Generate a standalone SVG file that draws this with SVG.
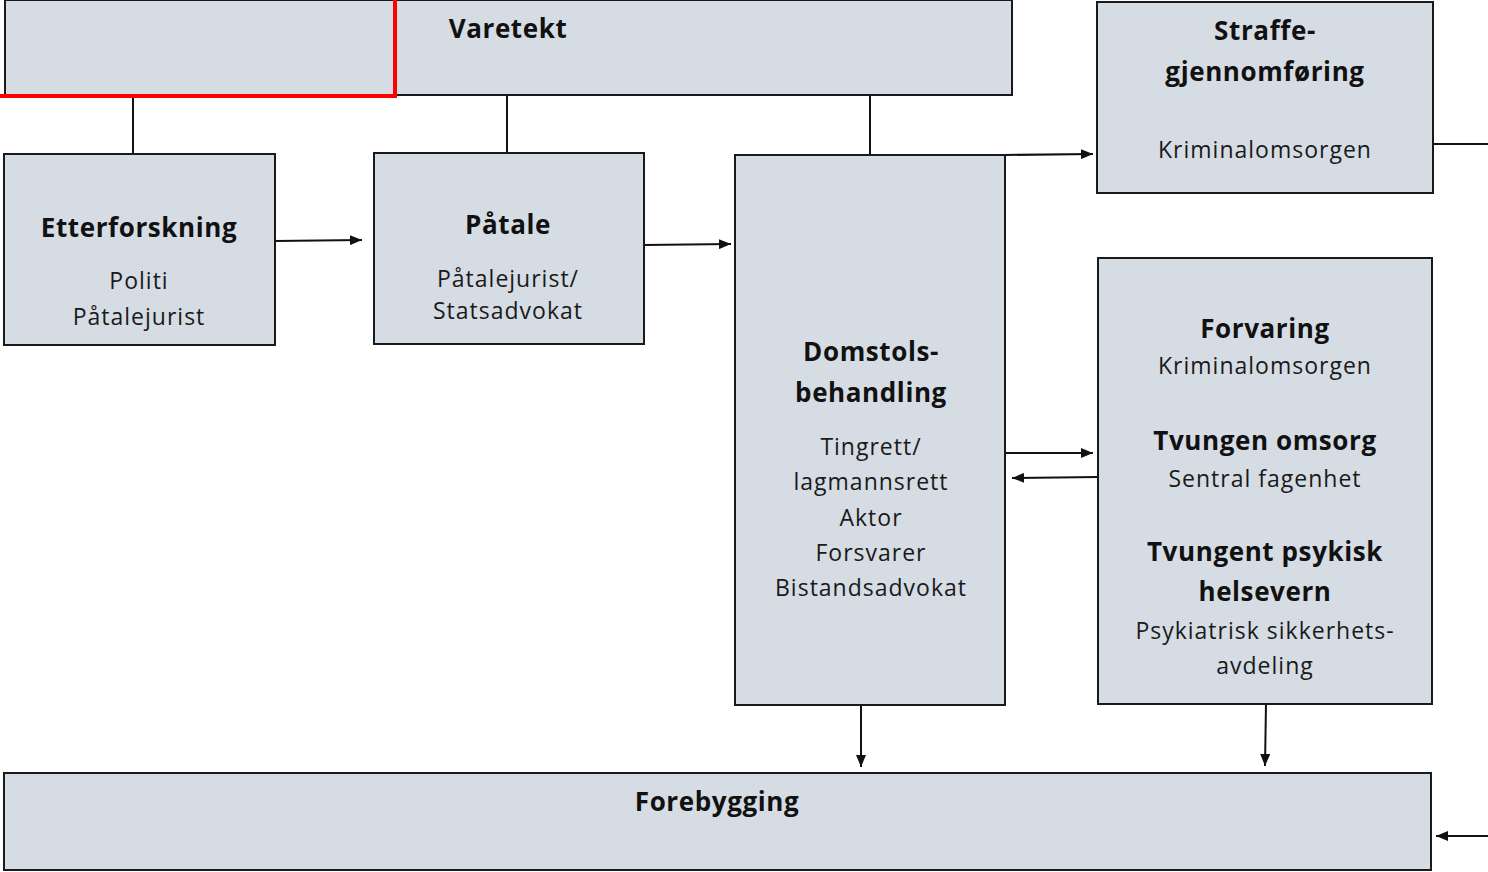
<svg xmlns="http://www.w3.org/2000/svg" width="1488" height="872" viewBox="0 0 1488 872">
<style>
.box{fill:#d6dce4;stroke:#1a1a1a;stroke-width:2}
.h{font-family:"Open Sans","Liberation Sans",sans-serif;font-weight:bold;font-size:26px;letter-spacing:0.6px;fill:#111;text-anchor:middle}
.t{font-family:"Open Sans","Liberation Sans",sans-serif;font-size:23px;letter-spacing:1px;fill:#1a1a1a;text-anchor:middle}
.c{stroke:#111;stroke-width:2;fill:none}
</style>
<defs>
<marker id="ah" viewBox="0 0 12 10" refX="12" refY="5" markerWidth="6" markerHeight="5" markerUnits="strokeWidth" orient="auto">
<path d="M0,0 L12,5 L0,10 z" fill="#111"/>
</marker>
</defs>
<rect width="1488" height="872" fill="#fff"/>
<g id="connectors">
<line class="c" x1="133" y1="96" x2="133" y2="154"/>
<line class="c" x1="507" y1="95" x2="507" y2="153"/>
<line class="c" x1="870" y1="95" x2="870" y2="155"/>
<line class="c" x1="275" y1="241" x2="362" y2="240" marker-end="url(#ah)"/>
<line class="c" x1="644" y1="245" x2="731" y2="244" marker-end="url(#ah)"/>
<line class="c" x1="1005" y1="155" x2="1093" y2="154" marker-end="url(#ah)"/>
<line class="c" x1="1005" y1="453" x2="1093" y2="453" marker-end="url(#ah)"/>
<line class="c" x1="1098" y1="477" x2="1012" y2="478" marker-end="url(#ah)"/>
<line class="c" x1="861" y1="705" x2="861" y2="767" marker-end="url(#ah)"/>
<line class="c" x1="1266" y1="704" x2="1265" y2="766" marker-end="url(#ah)"/>
<line class="c" x1="1433" y1="144" x2="1488" y2="144"/>
<line class="c" x1="1488" y1="836" x2="1436" y2="836" marker-end="url(#ah)"/>
</g>
<g id="varetekt">
<rect class="box" x="5" y="0" width="1007" height="95"/>
<path d="M0,96 H395 V0" fill="none" stroke="#ff0000" stroke-width="4"/>
<text class="h" x="508" y="38">Varetekt</text>
</g>
<g id="etterforskning">
<rect class="box" x="4" y="154" width="271" height="191"/>
<text class="h" x="139" y="237">Etterforskning</text>
<text class="t" x="139" y="289">Politi</text>
<text class="t" x="139" y="325">Påtalejurist</text>
</g>
<g id="patale">
<rect class="box" x="374" y="153" width="270" height="191"/>
<text class="h" x="508" y="234">Påtale</text>
<text class="t" x="508" y="287">Påtalejurist/</text>
<text class="t" x="508" y="319">Statsadvokat</text>
</g>
<g id="domstol">
<rect class="box" x="735" y="155" width="270" height="550"/>
<text class="h" x="871" y="361">Domstols-</text>
<text class="h" x="871" y="402">behandling</text>
<text class="t" x="871" y="455">Tingrett/</text>
<text class="t" x="871" y="490">lagmannsrett</text>
<text class="t" x="871" y="526">Aktor</text>
<text class="t" x="871" y="561">Forsvarer</text>
<text class="t" x="871" y="596">Bistandsadvokat</text>
</g>
<g id="straffe">
<rect class="box" x="1097" y="2" width="336" height="191"/>
<text class="h" x="1265" y="40">Straffe-</text>
<text class="h" x="1265" y="81">gjennomføring</text>
<text class="t" x="1265" y="158">Kriminalomsorgen</text>
</g>
<g id="forvaring">
<rect class="box" x="1098" y="258" width="334" height="446"/>
<text class="h" x="1265" y="338">Forvaring</text>
<text class="t" x="1265" y="374">Kriminalomsorgen</text>
<text class="h" x="1265" y="450">Tvungen omsorg</text>
<text class="t" x="1265" y="487">Sentral fagenhet</text>
<text class="h" x="1265" y="561">Tvungent psykisk</text>
<text class="h" x="1265" y="601">helsevern</text>
<text class="t" x="1265" y="639">Psykiatrisk sikkerhets-</text>
<text class="t" x="1265" y="674">avdeling</text>
</g>
<g id="forebygging">
<rect class="box" x="4" y="773" width="1427" height="97"/>
<text class="h" x="717" y="811">Forebygging</text>
</g>
</svg>
